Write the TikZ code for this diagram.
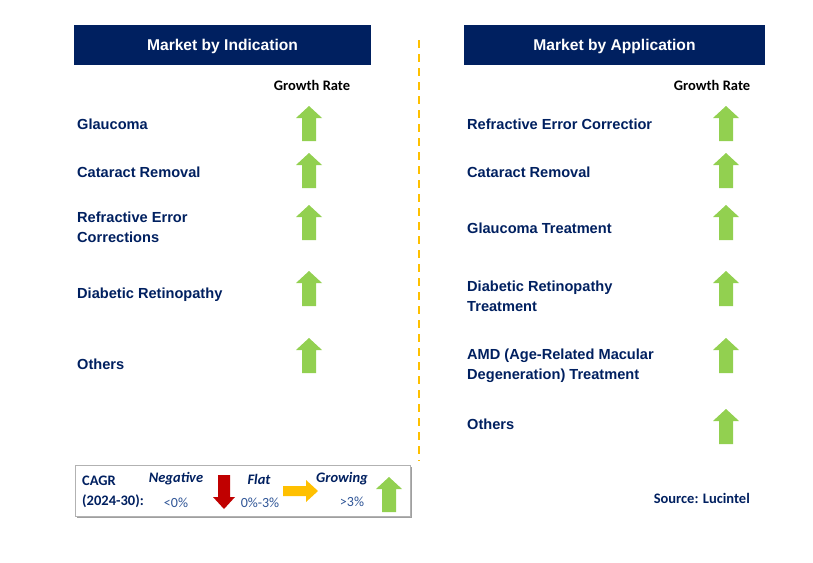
\documentclass[tikz,border=0pt]{standalone}
\usepackage{fontspec}
\setmainfont{Liberation Sans}
\newfontfamily\carlitofont{Carlito}
\definecolor{navy}{RGB}{0,32,96}
\definecolor{arrgreen}{RGB}{146,208,80}
\definecolor{arrred}{RGB}{192,0,0}
\definecolor{arryellow}{RGB}{255,192,0}
\definecolor{lblue}{RGB}{47,85,151}
\tikzset{
  hdr/.style={fill=navy,text=white,font=\fontsize{15.6}{18}\selectfont\bfseries,minimum height=40pt,inner sep=0pt},
  lbl/.style={anchor=west,text=navy,font=\fontsize{14.6}{20}\selectfont\bfseries,align=left,inner sep=0pt},
  grate/.style={font=\carlitofont\fontsize{14.5}{16}\selectfont\bfseries,text=black,inner sep=0pt},
  leg/.style={font=\carlitofont\fontsize{14.5}{16}\selectfont\bfseries\itshape,text=navy,inner sep=0pt},
  legv/.style={font=\carlitofont\fontsize{14}{16}\selectfont,text=lblue,inner sep=0pt},
  pics/uparr/.style={code={\fill[#1] (0,0) -- (13,12) -- (7,12) -- (7,35) -- (-7,35) -- (-7,12) -- (-13,12) -- cycle;}},
  pics/downarr/.style={code={\fill[#1] (0,0) -- (11,-12) -- (6,-12) -- (6,-34) -- (-6,-34) -- (-6,-12) -- (-11,-12) -- cycle;}},
  pics/rightarr/.style={code={\fill[#1] (0,0) -- (-12,-11) -- (-12,-5) -- (-35,-5) -- (-35,5) -- (-12,5) -- (-12,11) -- cycle;}},
}
\begin{document}
\begin{tikzpicture}[x=1pt,y=-1pt]
\useasboundingbox[fill=white] (0,0) rectangle (813,562);
% headers
\fill[navy] (74,25) rectangle (371,65);
\fill[navy] (464,25) rectangle (765,65);
\node[hdr,fill=none] (h1) at (222.5,46.5) {Market by Indication};
\node[hdr,fill=none] (h2) at (614.5,46.5) {Market by Application};
% divider
\coordinate (d1) at (419,40);
\coordinate (d2) at (419,461);
\draw[arryellow,line width=2pt,dash pattern=on 8pt off 6pt] (d1) -- (d2);
% growth rate labels
\node[grate] (g1) at (312,85) {Growth Rate};
\node[grate] (g2) at (712,85) {Growth Rate};
% left labels
\node[lbl] (l1) at (77,124) {Glaucoma};
\node[lbl] (l2) at (77,172) {Cataract Removal};
\node[lbl] (l3) at (77,227) {Refractive Error\\Corrections};
\node[lbl] (l4) at (77,295) {Diabetic Retinopathy};
\node[lbl] (l5) at (77,364) {Others};
\foreach \y in {106,153,205,271,338} \pic at (309,\y) {uparr=arrgreen};
% right labels
\node[lbl] (r1) at (467,124) {Refractive Error Correctior};
\node[lbl] (r2) at (467,172) {Cataract Removal};
\node[lbl] (r3) at (467,228) {Glaucoma Treatment};
\node[lbl] (r4) at (467,296) {Diabetic Retinopathy\\Treatment};
\node[lbl] (r5) at (467,366) {AMD (Age-Related Macular\\Degeneration) Treatment};
\node[lbl] (r6) at (467,424) {Others};
\foreach \y in {106,153,205,271,338,409} \pic at (726,\y) {uparr=arrgreen};
% legend
\fill[gray!75] (76.5,466.5) rectangle (411.5,517.5);
\node[draw=gray!60,fill=white,line width=0.8pt,minimum width=335pt,minimum height=51pt,inner sep=0pt] (lg) at (242.5,490.5) {};
\node[leg,font=\carlitofont\fontsize{14.5}{20}\selectfont\bfseries,anchor=west,align=left] (c1) at (82,492) {CAGR\\(2024-30):};
\node[leg] (n1) at (176,479) {Negative};
\node[legv] (n2) at (176,503) {<0\%};
\pic at (224,509) {downarr=arrred};
\node[leg] (f1) at (259,479) {Flat};
\node[legv] (f2) at (260,503) {0\%-3\%};
\pic at (318,491) {rightarr=arryellow};
\node[leg] (w1) at (342,479) {Growing};
\node[legv] (w2) at (352,502) {>3\%};
\pic at (389,477) {uparr=arrgreen};
% source
\node[grate,text=navy,anchor=east] (src) at (750,498) {Source: Lucintel};
\end{tikzpicture}
\end{document}
